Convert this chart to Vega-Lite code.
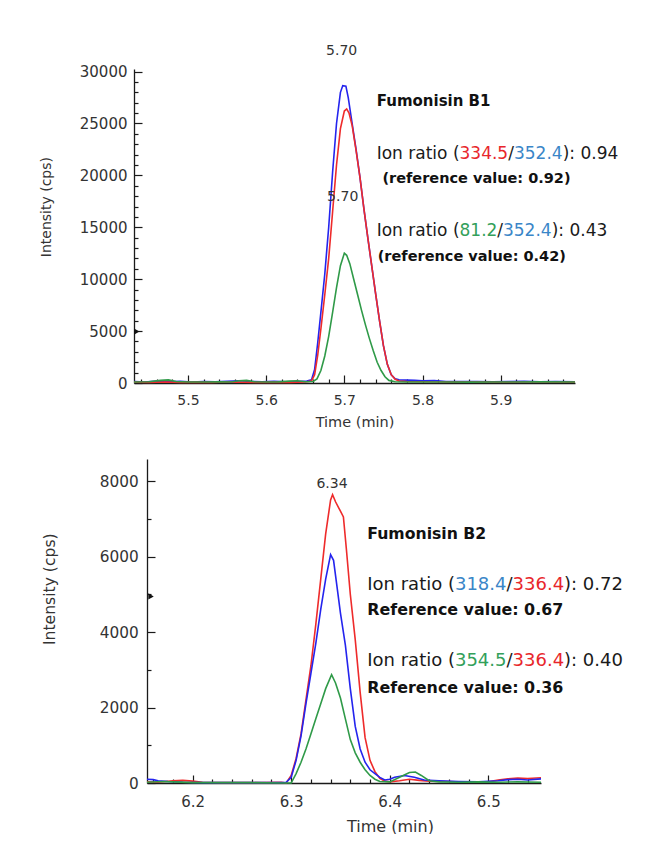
{
  "$schema": "https://vega.github.io/schema/vega-lite/v6.json",
  "padding": {"left": 38, "top": 44, "right": 0, "bottom": 0},
  "spacing": 30,
  "background": "white",
  "datasets": {
    "b1": [
      {"t":5.431,"i":150,"ion":"352.4"},{"t":5.445,"i":100,"ion":"352.4"},{"t":5.46,"i":180,"ion":"352.4"},{"t":5.475,"i":120,"ion":"352.4"},{"t":5.49,"i":160,"ion":"352.4"},{"t":5.505,"i":100,"ion":"352.4"},{"t":5.52,"i":150,"ion":"352.4"},{"t":5.535,"i":120,"ion":"352.4"},{"t":5.55,"i":160,"ion":"352.4"},{"t":5.565,"i":220,"ion":"352.4"},{"t":5.58,"i":140,"ion":"352.4"},{"t":5.595,"i":120,"ion":"352.4"},{"t":5.61,"i":160,"ion":"352.4"},{"t":5.625,"i":110,"ion":"352.4"},{"t":5.64,"i":150,"ion":"352.4"},{"t":5.652,"i":180,"ion":"352.4"},{"t":5.658,"i":300,"ion":"352.4"},{"t":5.662,"i":1300,"ion":"352.4"},{"t":5.666,"i":3900,"ion":"352.4"},{"t":5.67,"i":6800,"ion":"352.4"},{"t":5.675,"i":10500,"ion":"352.4"},{"t":5.68,"i":15000,"ion":"352.4"},{"t":5.685,"i":20300,"ion":"352.4"},{"t":5.69,"i":25000,"ion":"352.4"},{"t":5.695,"i":28000,"ion":"352.4"},{"t":5.698,"i":28650,"ion":"352.4"},{"t":5.702,"i":28600,"ion":"352.4"},{"t":5.705,"i":27500,"ion":"352.4"},{"t":5.71,"i":25000,"ion":"352.4"},{"t":5.715,"i":22500,"ion":"352.4"},{"t":5.72,"i":19800,"ion":"352.4"},{"t":5.725,"i":16800,"ion":"352.4"},{"t":5.73,"i":14000,"ion":"352.4"},{"t":5.735,"i":11300,"ion":"352.4"},{"t":5.74,"i":8600,"ion":"352.4"},{"t":5.745,"i":6000,"ion":"352.4"},{"t":5.75,"i":3600,"ion":"352.4"},{"t":5.755,"i":1800,"ion":"352.4"},{"t":5.76,"i":800,"ion":"352.4"},{"t":5.765,"i":400,"ion":"352.4"},{"t":5.77,"i":300,"ion":"352.4"},{"t":5.78,"i":280,"ion":"352.4"},{"t":5.79,"i":250,"ion":"352.4"},{"t":5.8,"i":220,"ion":"352.4"},{"t":5.815,"i":240,"ion":"352.4"},{"t":5.83,"i":150,"ion":"352.4"},{"t":5.85,"i":130,"ion":"352.4"},{"t":5.87,"i":150,"ion":"352.4"},{"t":5.89,"i":120,"ion":"352.4"},{"t":5.91,"i":140,"ion":"352.4"},{"t":5.93,"i":160,"ion":"352.4"},{"t":5.95,"i":120,"ion":"352.4"},{"t":5.97,"i":140,"ion":"352.4"},{"t":5.995,"i":120,"ion":"352.4"},
      {"t":5.431,"i":80,"ion":"334.5"},{"t":5.45,"i":60,"ion":"334.5"},{"t":5.47,"i":90,"ion":"334.5"},{"t":5.49,"i":60,"ion":"334.5"},{"t":5.51,"i":80,"ion":"334.5"},{"t":5.53,"i":60,"ion":"334.5"},{"t":5.55,"i":90,"ion":"334.5"},{"t":5.57,"i":70,"ion":"334.5"},{"t":5.59,"i":60,"ion":"334.5"},{"t":5.61,"i":80,"ion":"334.5"},{"t":5.63,"i":60,"ion":"334.5"},{"t":5.65,"i":90,"ion":"334.5"},{"t":5.658,"i":200,"ion":"334.5"},{"t":5.662,"i":800,"ion":"334.5"},{"t":5.666,"i":2700,"ion":"334.5"},{"t":5.67,"i":5200,"ion":"334.5"},{"t":5.675,"i":8500,"ion":"334.5"},{"t":5.68,"i":12000,"ion":"334.5"},{"t":5.685,"i":16500,"ion":"334.5"},{"t":5.69,"i":21000,"ion":"334.5"},{"t":5.695,"i":24500,"ion":"334.5"},{"t":5.7,"i":26200,"ion":"334.5"},{"t":5.703,"i":26400,"ion":"334.5"},{"t":5.706,"i":26000,"ion":"334.5"},{"t":5.71,"i":24800,"ion":"334.5"},{"t":5.715,"i":22400,"ion":"334.5"},{"t":5.72,"i":19800,"ion":"334.5"},{"t":5.725,"i":16800,"ion":"334.5"},{"t":5.73,"i":14000,"ion":"334.5"},{"t":5.735,"i":11300,"ion":"334.5"},{"t":5.74,"i":8600,"ion":"334.5"},{"t":5.745,"i":6000,"ion":"334.5"},{"t":5.75,"i":3600,"ion":"334.5"},{"t":5.755,"i":1800,"ion":"334.5"},{"t":5.76,"i":800,"ion":"334.5"},{"t":5.765,"i":350,"ion":"334.5"},{"t":5.77,"i":200,"ion":"334.5"},{"t":5.78,"i":150,"ion":"334.5"},{"t":5.8,"i":120,"ion":"334.5"},{"t":5.82,"i":100,"ion":"334.5"},{"t":5.85,"i":80,"ion":"334.5"},{"t":5.88,"i":90,"ion":"334.5"},{"t":5.91,"i":70,"ion":"334.5"},{"t":5.94,"i":90,"ion":"334.5"},{"t":5.97,"i":70,"ion":"334.5"},{"t":5.995,"i":80,"ion":"334.5"},
      {"t":5.431,"i":100,"ion":"81.2"},{"t":5.45,"i":120,"ion":"81.2"},{"t":5.465,"i":250,"ion":"81.2"},{"t":5.475,"i":300,"ion":"81.2"},{"t":5.485,"i":150,"ion":"81.2"},{"t":5.5,"i":100,"ion":"81.2"},{"t":5.52,"i":90,"ion":"81.2"},{"t":5.54,"i":110,"ion":"81.2"},{"t":5.555,"i":100,"ion":"81.2"},{"t":5.565,"i":220,"ion":"81.2"},{"t":5.575,"i":250,"ion":"81.2"},{"t":5.585,"i":120,"ion":"81.2"},{"t":5.6,"i":100,"ion":"81.2"},{"t":5.615,"i":110,"ion":"81.2"},{"t":5.63,"i":180,"ion":"81.2"},{"t":5.64,"i":220,"ion":"81.2"},{"t":5.65,"i":120,"ion":"81.2"},{"t":5.66,"i":150,"ion":"81.2"},{"t":5.665,"i":400,"ion":"81.2"},{"t":5.67,"i":1200,"ion":"81.2"},{"t":5.675,"i":2600,"ion":"81.2"},{"t":5.68,"i":4500,"ion":"81.2"},{"t":5.685,"i":6800,"ion":"81.2"},{"t":5.69,"i":9200,"ion":"81.2"},{"t":5.695,"i":11300,"ion":"81.2"},{"t":5.7,"i":12500,"ion":"81.2"},{"t":5.703,"i":12300,"ion":"81.2"},{"t":5.707,"i":11500,"ion":"81.2"},{"t":5.712,"i":10000,"ion":"81.2"},{"t":5.717,"i":8500,"ion":"81.2"},{"t":5.722,"i":7000,"ion":"81.2"},{"t":5.727,"i":5600,"ion":"81.2"},{"t":5.732,"i":4300,"ion":"81.2"},{"t":5.737,"i":3100,"ion":"81.2"},{"t":5.742,"i":2000,"ion":"81.2"},{"t":5.747,"i":1200,"ion":"81.2"},{"t":5.752,"i":600,"ion":"81.2"},{"t":5.757,"i":250,"ion":"81.2"},{"t":5.765,"i":120,"ion":"81.2"},{"t":5.78,"i":100,"ion":"81.2"},{"t":5.8,"i":90,"ion":"81.2"},{"t":5.83,"i":100,"ion":"81.2"},{"t":5.86,"i":80,"ion":"81.2"},{"t":5.89,"i":100,"ion":"81.2"},{"t":5.92,"i":90,"ion":"81.2"},{"t":5.95,"i":110,"ion":"81.2"},{"t":5.995,"i":90,"ion":"81.2"}
    ],
    "t1": [
      {"t":5.6966,"i":31950,"s":"5.70","part":"peak","ion":"k"},
      {"t":5.6979,"i":17880,"s":"5.70","part":"peak","ion":"k"},
      {"t":5.7414,"i":27130,"s":"Fumonisin B1","part":"title","ion":"k"},
      {"t":5.7414,"i":22090,"s":"Ion ratio (","part":"ratio","ion":"k"},
      {"t":5.8473,"i":22090,"s":"334.5","part":"ratio","ion":"334.5"},
      {"t":5.9096,"i":22090,"s":"/","part":"ratio","ion":"k"},
      {"t":5.9169,"i":22090,"s":"352.4","part":"ratio","ion":"352.4"},
      {"t":5.9792,"i":22090,"s":"): 0.94","part":"ratio","ion":"k"},
      {"t":5.7487,"i":19680,"s":"(reference value: 0.92)","part":"ref","ion":"k"},
      {"t":5.7414,"i":14670,"s":"Ion ratio (","part":"ratio","ion":"k"},
      {"t":5.8473,"i":14670,"s":"81.2","part":"ratio","ion":"81.2"},
      {"t":5.8956,"i":14670,"s":"/","part":"ratio","ion":"k"},
      {"t":5.9029,"i":14670,"s":"352.4","part":"ratio","ion":"352.4"},
      {"t":5.9652,"i":14670,"s":"): 0.43","part":"ratio","ion":"k"},
      {"t":5.7427,"i":12170,"s":"(reference value: 0.42)","part":"ref","ion":"k"}
    ],
    "b2": [
      {"t":6.1537,"i":30,"ion":"336.4"},{"t":6.165,"i":20,"ion":"336.4"},{"t":6.18,"i":60,"ion":"336.4"},{"t":6.19,"i":70,"ion":"336.4"},{"t":6.2,"i":50,"ion":"336.4"},{"t":6.21,"i":20,"ion":"336.4"},{"t":6.23,"i":10,"ion":"336.4"},{"t":6.25,"i":10,"ion":"336.4"},{"t":6.27,"i":10,"ion":"336.4"},{"t":6.29,"i":20,"ion":"336.4"},{"t":6.295,"i":0,"ion":"336.4"},{"t":6.3,"i":200,"ion":"336.4"},{"t":6.305,"i":650,"ion":"336.4"},{"t":6.31,"i":1300,"ion":"336.4"},{"t":6.315,"i":2200,"ion":"336.4"},{"t":6.32,"i":3100,"ion":"336.4"},{"t":6.325,"i":4200,"ion":"336.4"},{"t":6.33,"i":5400,"ion":"336.4"},{"t":6.335,"i":6600,"ion":"336.4"},{"t":6.34,"i":7500,"ion":"336.4"},{"t":6.342,"i":7640,"ion":"336.4"},{"t":6.345,"i":7450,"ion":"336.4"},{"t":6.35,"i":7200,"ion":"336.4"},{"t":6.353,"i":7050,"ion":"336.4"},{"t":6.356,"i":6200,"ion":"336.4"},{"t":6.36,"i":5000,"ion":"336.4"},{"t":6.365,"i":3800,"ion":"336.4"},{"t":6.37,"i":2400,"ion":"336.4"},{"t":6.375,"i":1200,"ion":"336.4"},{"t":6.38,"i":600,"ion":"336.4"},{"t":6.385,"i":300,"ion":"336.4"},{"t":6.39,"i":120,"ion":"336.4"},{"t":6.395,"i":50,"ion":"336.4"},{"t":6.4,"i":30,"ion":"336.4"},{"t":6.41,"i":60,"ion":"336.4"},{"t":6.42,"i":100,"ion":"336.4"},{"t":6.43,"i":70,"ion":"336.4"},{"t":6.44,"i":50,"ion":"336.4"},{"t":6.46,"i":40,"ion":"336.4"},{"t":6.48,"i":20,"ion":"336.4"},{"t":6.5,"i":30,"ion":"336.4"},{"t":6.51,"i":80,"ion":"336.4"},{"t":6.52,"i":110,"ion":"336.4"},{"t":6.53,"i":130,"ion":"336.4"},{"t":6.54,"i":120,"ion":"336.4"},{"t":6.5535,"i":140,"ion":"336.4"},
      {"t":6.1537,"i":100,"ion":"318.4"},{"t":6.16,"i":90,"ion":"318.4"},{"t":6.165,"i":60,"ion":"318.4"},{"t":6.175,"i":40,"ion":"318.4"},{"t":6.19,"i":20,"ion":"318.4"},{"t":6.21,"i":10,"ion":"318.4"},{"t":6.24,"i":10,"ion":"318.4"},{"t":6.27,"i":10,"ion":"318.4"},{"t":6.29,"i":10,"ion":"318.4"},{"t":6.295,"i":20,"ion":"318.4"},{"t":6.3,"i":150,"ion":"318.4"},{"t":6.305,"i":600,"ion":"318.4"},{"t":6.31,"i":1250,"ion":"318.4"},{"t":6.315,"i":2100,"ion":"318.4"},{"t":6.32,"i":2900,"ion":"318.4"},{"t":6.325,"i":3700,"ion":"318.4"},{"t":6.33,"i":4600,"ion":"318.4"},{"t":6.335,"i":5400,"ion":"318.4"},{"t":6.34,"i":6050,"ion":"318.4"},{"t":6.343,"i":5900,"ion":"318.4"},{"t":6.346,"i":5300,"ion":"318.4"},{"t":6.35,"i":4500,"ion":"318.4"},{"t":6.355,"i":3650,"ion":"318.4"},{"t":6.36,"i":2500,"ion":"318.4"},{"t":6.365,"i":1500,"ion":"318.4"},{"t":6.37,"i":900,"ion":"318.4"},{"t":6.375,"i":550,"ion":"318.4"},{"t":6.38,"i":350,"ion":"318.4"},{"t":6.385,"i":250,"ion":"318.4"},{"t":6.39,"i":150,"ion":"318.4"},{"t":6.395,"i":80,"ion":"318.4"},{"t":6.4,"i":100,"ion":"318.4"},{"t":6.405,"i":150,"ion":"318.4"},{"t":6.415,"i":200,"ion":"318.4"},{"t":6.425,"i":150,"ion":"318.4"},{"t":6.435,"i":80,"ion":"318.4"},{"t":6.45,"i":60,"ion":"318.4"},{"t":6.47,"i":40,"ion":"318.4"},{"t":6.49,"i":30,"ion":"318.4"},{"t":6.51,"i":60,"ion":"318.4"},{"t":6.52,"i":90,"ion":"318.4"},{"t":6.53,"i":100,"ion":"318.4"},{"t":6.54,"i":80,"ion":"318.4"},{"t":6.5535,"i":110,"ion":"318.4"},
      {"t":6.1537,"i":20,"ion":"354.5"},{"t":6.17,"i":40,"ion":"354.5"},{"t":6.18,"i":30,"ion":"354.5"},{"t":6.2,"i":10,"ion":"354.5"},{"t":6.23,"i":10,"ion":"354.5"},{"t":6.26,"i":10,"ion":"354.5"},{"t":6.29,"i":0,"ion":"354.5"},{"t":6.3,"i":0,"ion":"354.5"},{"t":6.305,"i":250,"ion":"354.5"},{"t":6.31,"i":550,"ion":"354.5"},{"t":6.315,"i":900,"ion":"354.5"},{"t":6.32,"i":1300,"ion":"354.5"},{"t":6.325,"i":1700,"ion":"354.5"},{"t":6.33,"i":2100,"ion":"354.5"},{"t":6.335,"i":2500,"ion":"354.5"},{"t":6.341,"i":2870,"ion":"354.5"},{"t":6.345,"i":2650,"ion":"354.5"},{"t":6.35,"i":2250,"ion":"354.5"},{"t":6.355,"i":1700,"ion":"354.5"},{"t":6.36,"i":1150,"ion":"354.5"},{"t":6.365,"i":800,"ion":"354.5"},{"t":6.37,"i":550,"ion":"354.5"},{"t":6.375,"i":350,"ion":"354.5"},{"t":6.38,"i":200,"ion":"354.5"},{"t":6.385,"i":100,"ion":"354.5"},{"t":6.39,"i":40,"ion":"354.5"},{"t":6.4,"i":30,"ion":"354.5"},{"t":6.41,"i":150,"ion":"354.5"},{"t":6.42,"i":280,"ion":"354.5"},{"t":6.426,"i":290,"ion":"354.5"},{"t":6.432,"i":200,"ion":"354.5"},{"t":6.44,"i":60,"ion":"354.5"},{"t":6.45,"i":30,"ion":"354.5"},{"t":6.47,"i":20,"ion":"354.5"},{"t":6.49,"i":30,"ion":"354.5"},{"t":6.51,"i":20,"ion":"354.5"},{"t":6.53,"i":30,"ion":"354.5"},{"t":6.5535,"i":20,"ion":"354.5"}
    ],
    "t2": [
      {"t":6.3414,"i":7930,"s":"6.34","part":"peak","ion":"k"},
      {"t":6.3772,"i":6604,"s":"Fumonisin B2","part":"title","ion":"k"},
      {"t":6.3772,"i":5253,"s":"Ion ratio (","part":"ratio","ion":"k"},
      {"t":6.4662,"i":5253,"s":"318.4","part":"ratio","ion":"318.4"},
      {"t":6.5185,"i":5253,"s":"/","part":"ratio","ion":"k"},
      {"t":6.5247,"i":5253,"s":"336.4","part":"ratio","ion":"336.4"},
      {"t":6.5769,"i":5253,"s":"): 0.72","part":"ratio","ion":"k"},
      {"t":6.3772,"i":4591,"s":"Reference value: 0.67","part":"ref","ion":"k"},
      {"t":6.3772,"i":3221,"s":"Ion ratio (","part":"ratio","ion":"k"},
      {"t":6.4662,"i":3221,"s":"354.5","part":"ratio","ion":"354.5"},
      {"t":6.5185,"i":3221,"s":"/","part":"ratio","ion":"k"},
      {"t":6.5247,"i":3221,"s":"336.4","part":"ratio","ion":"336.4"},
      {"t":6.5769,"i":3221,"s":"): 0.40","part":"ratio","ion":"k"},
      {"t":6.3772,"i":2525,"s":"Reference value: 0.36","part":"ref","ion":"k"}
    ]
  },
  "vconcat": [
    {
      "width": 441,
      "height": 314,
      "encoding": {
        "x": {"field": "t", "type": "quantitative",
          "scale": {"domain": [5.431, 5.995], "nice": false, "zero": false},
          "axis": {"title": "Time (min)", "values": [5.44,5.46,5.48,5.5,5.52,5.54,5.56,5.58,5.6,5.62,5.64,5.66,5.68,5.7,5.72,5.74,5.76,5.78,5.8,5.82,5.84,5.86,5.88,5.9,5.92,5.94,5.96,5.98],
            "format": ".1f",
            "labelExpr": "abs(datum.value*10 - round(datum.value*10)) < 0.001 ? datum.label : ''",
            "tickSize": {"condition": {"test": "abs(datum.value*10 - round(datum.value*10)) < 0.001", "value": -8}, "value": -4},
            "labelPadding": 18, "labelFontSize": 14, "titleFontSize": 14.5, "titlePadding": 4, "labelOverlap": false, "labelFlush": false}},
        "y": {"field": "i", "type": "quantitative",
          "scale": {"domain": [0, 30250], "nice": false},
          "axis": {"title": "Intensity (cps)", "values": [0,1000,2000,3000,4000,5000,6000,7000,8000,9000,10000,11000,12000,13000,14000,15000,16000,17000,18000,19000,20000,21000,22000,23000,24000,25000,26000,27000,28000,29000,30000],
            "format": "d",
            "labelExpr": "datum.value % 5000 === 0 ? datum.label : ''",
            "tickSize": {"condition": {"test": "datum.value % 5000 === 0", "value": -8}, "value": -4},
            "labelPadding": 15, "labelFontSize": 15, "titleFontSize": 14,
            "titleX": -88, "titleY": 137.6, "titleBaseline": "middle", "titleAngle": 270,
            "labelOverlap": false, "labelFlush": false}}
      },
      "layer": [
        {"data": {"name": "b1"}, "mark": {"type": "line", "strokeWidth": 1.6},
          "encoding": {"color": {"field": "ion", "type": "nominal", "legend": null,
            "scale": {"domain": ["352.4", "334.5", "81.2"], "range": ["#2424ee", "#ee2b2b", "#2f9a48"]}}}},
        {"data": {"values": [{"t": 5.4345, "i": 4950}]}, "mark": {"type": "point", "shape": "triangle-right", "filled": true, "color": "#111", "size": 40, "opacity": 1}},
        {"data": {"name": "t1"}, "transform": [{"filter": "datum.part === 'peak'"}],
          "mark": {"type": "text", "fontSize": 14, "align": "center", "baseline": "middle", "color": "#333"},
          "encoding": {"text": {"field": "s"}}},
        {"data": {"name": "t1"}, "transform": [{"filter": "datum.part === 'title'"}],
          "mark": {"type": "text", "fontSize": 15, "fontWeight": "bold", "align": "left", "baseline": "middle", "color": "#111"},
          "encoding": {"text": {"field": "s"}}},
        {"data": {"name": "t1"}, "transform": [{"filter": "datum.part === 'ref'"}],
          "mark": {"type": "text", "fontSize": 14.5, "fontWeight": "bold", "align": "left", "baseline": "middle", "color": "#111"},
          "encoding": {"text": {"field": "s"}}},
        {"data": {"name": "t1"}, "transform": [{"filter": "datum.part === 'ratio'"}],
          "mark": {"type": "text", "fontSize": 17, "align": "left", "baseline": "middle"},
          "encoding": {"text": {"field": "s"},
            "color": {"field": "ion", "type": "nominal", "legend": null,
              "scale": {"domain": ["k", "334.5", "352.4", "81.2"], "range": ["#1a1a1a", "#e8262b", "#3a86c8", "#33a05a"]}}}}
      ],
      "resolve": {"scale": {"color": "independent"}}
    },
    {
      "width": 407,
      "height": 324,
      "encoding": {
        "x": {"field": "t", "type": "quantitative",
          "scale": {"domain": [6.1537, 6.5535], "range": [13, 407], "nice": false, "zero": false},
          "axis": {"title": "Time (min)", "values": [6.16,6.18,6.2,6.22,6.24,6.26,6.28,6.3,6.32,6.34,6.36,6.38,6.4,6.42,6.44,6.46,6.48,6.5,6.52,6.54],
            "format": ".1f",
            "labelExpr": "abs(datum.value*10 - round(datum.value*10)) < 0.001 ? datum.label : ''",
            "tickSize": {"condition": {"test": "abs(datum.value*10 - round(datum.value*10)) < 0.001", "value": -8}, "value": -4},
            "labelPadding": 19, "labelFontSize": 15, "titleFontSize": 16, "titlePadding": 5, "titleX": 256,
            "labelOverlap": false, "labelFlush": false}},
        "y": {"field": "i", "type": "quantitative",
          "scale": {"domain": [0, 8583], "nice": false},
          "axis": {"title": "Intensity (cps)", "values": [0,1000,2000,3000,4000,5000,6000,7000,8000],
            "format": "d", "offset": -13,
            "labelExpr": "datum.value % 2000 === 0 ? datum.label : ''",
            "tickSize": {"condition": {"test": "datum.value % 2000 === 0", "value": -8}, "value": -4},
            "labelPadding": 16.7, "labelFontSize": 15.3, "titleFontSize": 15.6,
            "titleX": -98, "titleY": 129.7, "titleBaseline": "middle", "titleAngle": 270,
            "labelOverlap": false, "labelFlush": false}}
      },
      "layer": [
        {"data": {"name": "b2"}, "mark": {"type": "line", "strokeWidth": 1.6},
          "encoding": {"color": {"field": "ion", "type": "nominal", "legend": null,
            "scale": {"domain": ["336.4", "318.4", "354.5"], "range": ["#ee2b2b", "#2424ee", "#2f9a48"]}}}},
        {"data": {"values": [{"t": 6.1578, "i": 4943}]}, "mark": {"type": "point", "shape": "triangle-right", "filled": true, "color": "#111", "size": 40, "opacity": 1}},
        {"data": {"name": "t2"}, "transform": [{"filter": "datum.part === 'peak'"}],
          "mark": {"type": "text", "fontSize": 14, "align": "center", "baseline": "middle", "color": "#333"},
          "encoding": {"text": {"field": "s"}}},
        {"data": {"name": "t2"}, "transform": [{"filter": "datum.part === 'title'"}],
          "mark": {"type": "text", "fontSize": 15.7, "fontWeight": "bold", "align": "left", "baseline": "middle", "color": "#111"},
          "encoding": {"text": {"field": "s"}}},
        {"data": {"name": "t2"}, "transform": [{"filter": "datum.part === 'ref'"}],
          "mark": {"type": "text", "fontSize": 15.9, "fontWeight": "bold", "align": "left", "baseline": "middle", "color": "#111"},
          "encoding": {"text": {"field": "s"}}},
        {"data": {"name": "t2"}, "transform": [{"filter": "datum.part === 'ratio'"}],
          "mark": {"type": "text", "fontSize": 18, "align": "left", "baseline": "middle"},
          "encoding": {"text": {"field": "s"},
            "color": {"field": "ion", "type": "nominal", "legend": null,
              "scale": {"domain": ["k", "318.4", "336.4", "354.5"], "range": ["#1a1a1a", "#3a86c8", "#e8262b", "#33a05a"]}}}}
      ],
      "resolve": {"scale": {"color": "independent"}}
    }
  ],
  "config": {
    "view": {"stroke": null},
    "font": "DejaVu Sans",
    "axis": {"grid": false, "labelFont": "DejaVu Sans", "titleFont": "DejaVu Sans", "domainColor": "#1a1a1a", "tickColor": "#1a1a1a", "labelColor": "#333333", "titleColor": "#333333", "titleFontWeight": "normal", "domainWidth": 1.3, "tickWidth": 1.2},
    "text": {"font": "DejaVu Sans"}
  }
}
